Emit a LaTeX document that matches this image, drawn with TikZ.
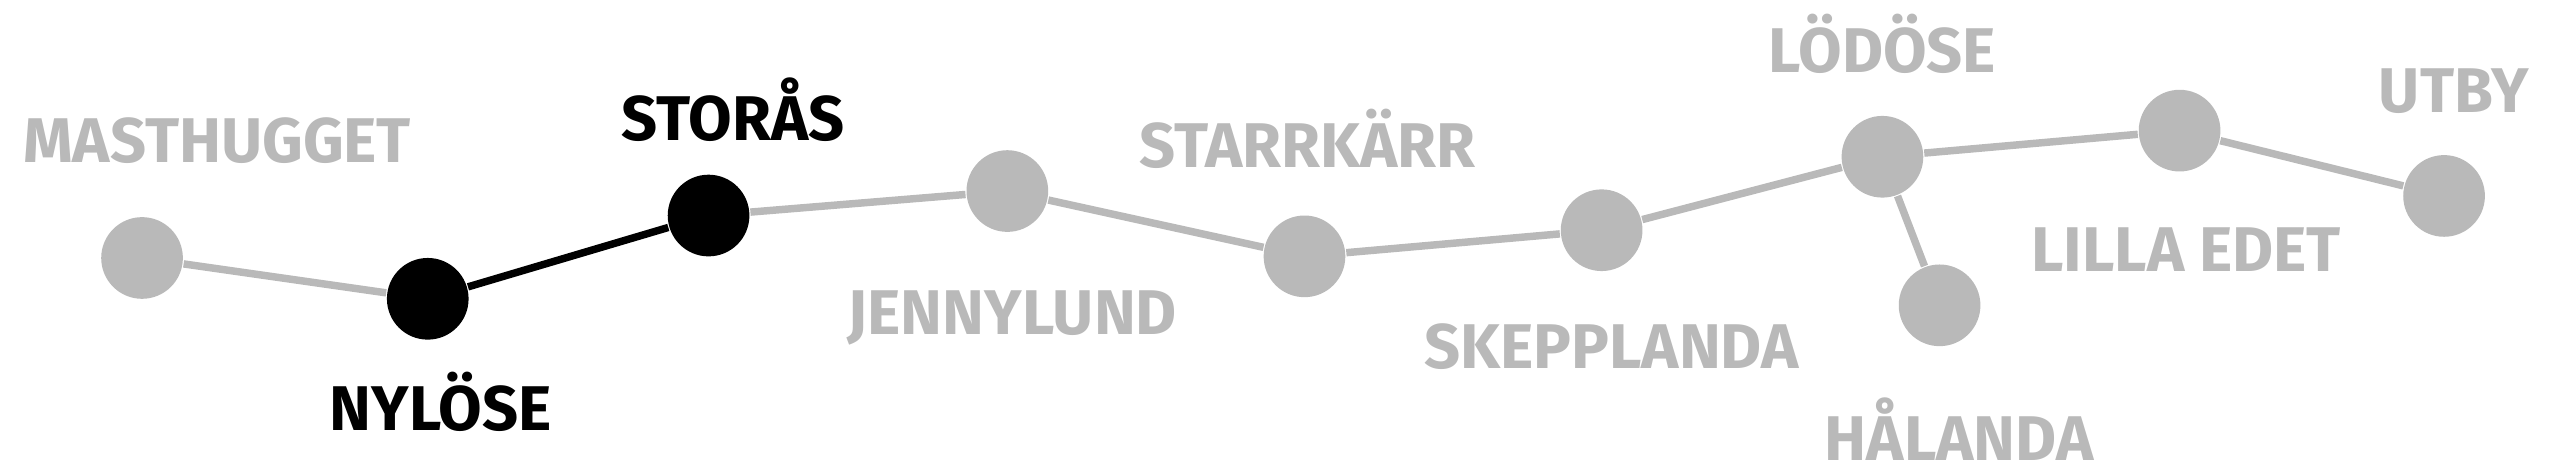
\documentclass[tikz,border=0pt]{standalone}
\usepackage{fontspec}
\setmainfont{Fira Sans}
\begin{document}
\begin{tikzpicture}[x=0.01cm,y=-0.01cm,
  st/.style={circle,fill=gray!55,minimum size=0.5cm,inner sep=0},
  stb/.style={circle,fill=black,minimum size=0.5cm,inner sep=0},
  lbl/.style={font=\fontsize{11}{13}\selectfont\bfseries,text=gray!55},
  lblb/.style={font=\fontsize{11}{13}\selectfont\bfseries,text=black},
  ln/.style={line width=1.3pt,draw=gray!55},
  lnb/.style={line width=1.3pt,draw=black}]
\useasboundingbox (0,0) rectangle (1568,290);
\node[st] (mas) at (87,158) {};
\node[stb] (nyl) at (262,183) {};
\node[stb] (sto) at (434,132) {};
\node[st] (jen) at (617,117) {};
\node[st] (sta) at (799,157) {};
\node[st] (ske) at (981,141) {};
\node[st] (lod) at (1153,96) {};
\node[st] (hal) at (1188,187) {};
\node[st] (lil) at (1335,80) {};
\node[st] (utb) at (1497,120) {};
\draw[ln] (mas) -- (nyl);
\draw[lnb] (nyl) -- (sto);
\draw[ln] (sto) -- (jen);
\draw[ln] (jen) -- (sta);
\draw[ln] (sta) -- (ske);
\draw[ln] (ske) -- (lod);
\draw[ln] (lod) -- (hal);
\draw[ln] (lod) -- (lil);
\draw[ln] (lil) -- (utb);
\node[lbl] (tmas) at (133,86) {MASTHUGGET};
\node[lblb] (tsto) at (449,67) {STORÅS};
\node[lblb] (tnyl) at (270,246) {NYLÖSE};
\node[lbl] (tjen) at (620,195) {JENNYLUND};
\node[lbl] (tsta) at (801,85) {STARRKÄRR};
\node[lbl] (tske) at (987,212) {SKEPPLANDA};
\node[lbl] (tlod) at (1153,27) {LÖDÖSE};
\node[lbl] (thal) at (1200,263) {HÅLANDA};
\node[lbl] (tlil) at (1339,153) {LILLA EDET};
\node[lbl] (tutb) at (1503,56) {UTBY};
\end{tikzpicture}
\end{document}
